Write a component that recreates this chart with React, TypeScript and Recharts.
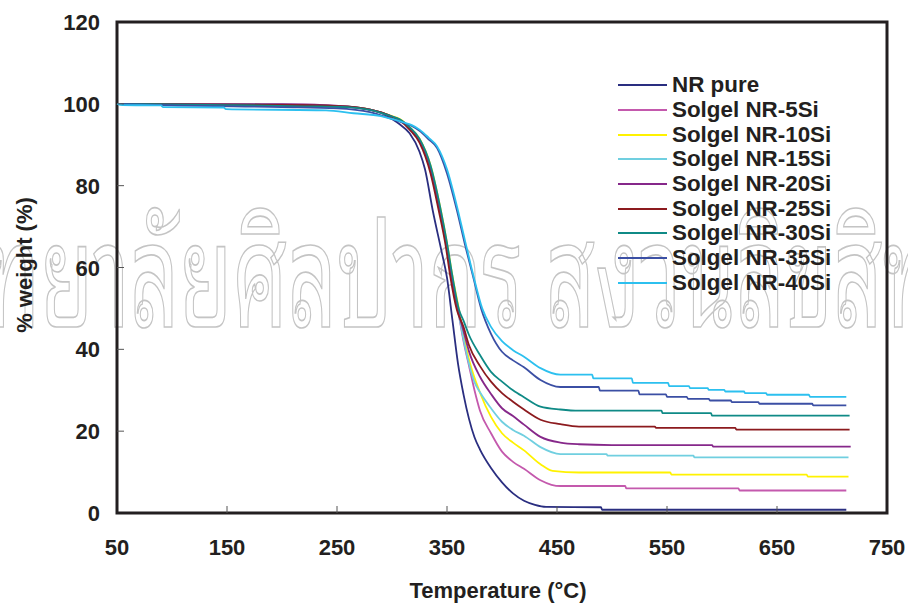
import { LineChart, Line, XAxis, YAxis, ReferenceArea, Legend } from 'recharts';

// temperature (°C) / weight (%) pairs
const nrPure = [
  [50, 100], [120, 99.9], [200, 99.7], [250, 99.4], [280, 98.6], [290, 97.8], [300, 96.3], [307, 95], [316, 92.8],
  [325, 88.3], [330, 84], [337, 74], [345, 64], [350, 57.5], [355, 47], [360, 36.5], [365, 29], [370, 23],
  [375, 18.5], [380, 15.5], [390, 11], [400, 7.5], [410, 4.8], [420, 3.0], [430, 2.0], [440, 1.5], [490, 1.4],
  [491, 0.8], [713, 0.8],
];
const nr5Si = [
  [50, 100], [150, 99.9], [220, 99.8], [260, 99.3], [280, 98.6], [290, 97.9], [300, 96.9], [307, 96.1], [316, 94.0],
  [325, 91], [335, 84], [343, 74.5], [350, 65], [354, 57.8], [360, 49.6], [365, 42], [370, 36], [375, 30],
  [380, 25], [390, 19.5], [400, 15.0], [410, 12.5], [420, 10.8], [435, 8.0], [445, 6.9], [453, 6.6], [512, 6.6],
  [513, 6.0], [615, 6.0], [616, 5.5], [713, 5.5],
];
const nr10Si = [
  [50, 100], [150, 99.9], [220, 99.7], [260, 99.3], [280, 98.6], [290, 97.9], [300, 97.0], [307, 96.3], [316, 94.3],
  [325, 91.5], [335, 85], [344, 74.5], [350, 66], [355, 57.8], [361, 49.6], [365, 43.5], [370, 37.5], [380, 29.4],
  [390, 23.5], [400, 19.5], [410, 17.2], [420, 15.3], [435, 11.9], [446, 10.3], [470, 9.9], [553, 9.9],
  [554, 9.4], [677, 9.4], [678, 8.9], [715, 8.9],
];
const nr15Si = [
  [50, 100], [150, 99.9], [220, 99.7], [260, 99.3], [280, 98.6], [290, 97.9], [300, 96.9], [307, 96.1], [316, 94.0],
  [325, 91], [335, 84], [343, 74.5], [350, 65], [354, 57.8], [360, 49.6], [365, 42.5], [370, 36.5], [375, 32],
  [380, 29.5], [390, 25.6], [400, 22.3], [410, 20.3], [420, 18.9], [435, 16.1], [453, 14.4], [495, 14.4],
  [496, 14.0], [574, 14.0], [575, 13.6], [715, 13.6],
];
const nr20Si = [
  [50, 100], [150, 99.9], [200, 99.9], [260, 99.4], [280, 98.6], [290, 97.9], [300, 96.9], [307, 96.1], [316, 94.0],
  [325, 91], [335, 84], [343, 74.5], [350, 65], [354, 57.8], [360, 49.6], [365, 44.5], [370, 39.5], [380, 33.3],
  [390, 29.1], [400, 25.6], [410, 23.7], [420, 21.6], [435, 18.6], [453, 17.2], [470, 16.8], [500, 16.6],
  [591, 16.6], [592, 16.2], [717, 16.2],
];
const nr25Si = [
  [50, 100], [150, 99.8], [220, 99.7], [260, 99.3], [280, 98.6], [290, 97.9], [300, 96.8], [307, 95.9], [316, 93.7],
  [325, 90.5], [335, 83], [342, 74.5], [349, 65], [353, 57.8], [359, 49.6], [365, 45.5], [370, 41], [380, 35.9],
  [390, 32.1], [400, 29.3], [410, 27.2], [420, 25.3], [435, 22.8], [453, 21.7], [470, 21.1], [539, 21.1],
  [540, 20.8], [612, 20.8], [613, 20.4], [716, 20.4],
];
const nr30Si = [
  [50, 100], [150, 99.7], [220, 99.4], [260, 99.2], [280, 98.5], [290, 97.8], [300, 96.9], [307, 96.2], [316, 94.3],
  [325, 91.5], [335, 85], [344, 74.5], [350, 66], [355, 57.8], [361, 49.6], [365, 47], [370, 43.5], [380, 38.6],
  [390, 34.5], [400, 32.1], [410, 30], [420, 28.3], [435, 26.0], [453, 25.3], [470, 25.0], [545, 25.0],
  [546, 24.4], [590, 24.4], [591, 23.8], [716, 23.8],
];
const nr35Si = [
  [50, 100], [100, 99.6], [200, 99.2], [250, 98.9], [280, 98], [300, 96.3], [310, 95.4], [318, 94.6], [325, 93.4],
  [333, 91.4], [341, 89.2], [350, 83], [359, 74], [366, 66], [374, 57.5], [381, 50], [390, 43.8], [400, 39.4],
  [410, 37.3], [420, 35.6], [435, 32.5], [453, 30.8], [488, 30.8], [489, 29.9], [524, 29.9], [525, 29.0],
  [549, 29.0], [550, 28.4], [568, 28.4], [569, 27.9], [588, 27.9], [589, 27.5], [608, 27.5], [609, 27.1],
  [633, 27.1], [634, 26.7], [682, 26.7], [683, 26.3], [713, 26.3],
];
const nr40Si = [
  [50, 100], [55, 99.7], [90, 99.6], [92, 99.2], [147, 99.1], [149, 98.7], [240, 98.4], [265, 97.7], [290, 97.0],
  [300, 96.3], [310, 95.5], [318, 94.8], [325, 93.7], [333, 91.8], [341, 89.6], [350, 84], [359, 75], [366, 67],
  [374, 58], [382, 50], [390, 45.5], [400, 42], [410, 39.8], [420, 38.2], [435, 35.4], [453, 33.8], [482, 33.8],
  [483, 32.9], [518, 32.9], [519, 31.8], [551, 31.8], [552, 31.0], [570, 31.0], [571, 30.5], [587, 30.5],
  [588, 30.1], [602, 30.1], [603, 29.7], [620, 29.7], [621, 29.3], [640, 29.3], [641, 28.9], [679, 28.9],
  [680, 28.4], [713, 28.4],
];

const SERIES_NAMES = [
  'NR pure', 'Solgel NR-5Si', 'Solgel NR-10Si', 'Solgel NR-15Si', 'Solgel NR-20Si',
  'Solgel NR-25Si', 'Solgel NR-30Si', 'Solgel NR-35Si', 'Solgel NR-40Si',
];
const SERIES_DATA = [nrPure, nr5Si, nr10Si, nr15Si, nr20Si, nr25Si, nr30Si, nr35Si, nr40Si];
const COLORS = ['#2a2e80', '#c459ad', '#fff200', '#70cfe0', '#86288a', '#8c1a1e', '#0f8a86', '#3b4fa4', '#2cc0ef'];

const TEMP_TICKS = [50, 150, 250, 350, 450, 550, 650, 750];
const WEIGHT_TICKS = [0, 20, 40, 60, 80, 100, 120];

const WATERMARK = 'หอสมุดมหาวิทยาลัยศิลปากร สงวนลิขสิทธิ์';

const FONT = '"Liberation Sans", Arial, sans-serif';
const INK = '#231f20';
const PLOT_LEFT = 117;
const PLOT_BOTTOM = 513;

const toPoints = (pairs: number[][]) => pairs.map(([t, w]) => ({ t, w }));

const XTick = (props: any) => {
  const { x, payload } = props;
  const edge = payload.value === 50 || payload.value === 750;
  return (
    <g>
      {!edge && <line x1={x} x2={x} y1={PLOT_BOTTOM} y2={PLOT_BOTTOM - 7} stroke="#555" strokeWidth={1} />}
      <text x={x} y={555} textAnchor="middle" fontFamily={FONT} fontWeight="bold" fontSize={22} fill={INK}>
        {payload.value}
      </text>
    </g>
  );
};

const YTick = (props: any) => {
  const { y, payload } = props;
  const edge = payload.value === 0 || payload.value === 120;
  return (
    <g>
      {!edge && <line x1={PLOT_LEFT} x2={PLOT_LEFT + 7} y1={y} y2={y} stroke="#555" strokeWidth={1} />}
      <text x={100} y={y + 8} textAnchor="end" fontFamily={FONT} fontWeight="bold" fontSize={22} fill={INK}>
        {payload.value}
      </text>
    </g>
  );
};

const LegendBox = () => (
  <div style={{ fontFamily: FONT, fontWeight: 'bold', fontSize: 22.4, color: INK }}>
    {SERIES_NAMES.map((name, i) => (
      <div key={name} style={{ display: 'flex', alignItems: 'center', height: 24.7 }}>
        <div style={{ width: 49, height: 2, background: COLORS[i], marginRight: 5 }} />
        <span style={{ whiteSpace: 'nowrap' }}>{name}</span>
      </div>
    ))}
  </div>
);

export default function App() {
  return (
    <div style={{ position: 'absolute', left: 0, top: 0, width: 908, height: 603, background: '#fff' }}>
      {/* library stamp behind the plot */}
      <svg width={908} height={603} style={{ position: 'absolute', left: 0, top: 0 }}>
        <text
          transform="translate(-472, 327) scale(1.08, 1.8)"
          fontSize={80}
          fontFamily="'Noto Sans Thai Looped', 'Noto Serif Thai', 'Noto Sans Thai', sans-serif"
          fill="none"
          stroke="#c4c4c4"
          strokeWidth={1.4}
          vectorEffect="non-scaling-stroke"
        >
          {WATERMARK}
        </text>
      </svg>
      <LineChart width={908} height={603} margin={{ top: 22, right: 21, bottom: 0, left: 0 }} style={{ position: 'absolute' }}>
        <XAxis
          dataKey="t"
          type="number"
          domain={[50, 750]}
          ticks={TEMP_TICKS}
          height={90}
          axisLine={false}
          tickLine={false}
          tick={XTick}
          interval={0}
          label={{
            content: () => (
              <text x={498} y={598} textAnchor="middle" fontFamily={FONT} fontWeight="bold" fontSize={22} fill={INK}>
                Temperature (°C)
              </text>
            ),
          }}
        />
        <YAxis
          dataKey="w"
          type="number"
          domain={[0, 120]}
          ticks={WEIGHT_TICKS}
          width={117}
          axisLine={false}
          tickLine={false}
          tick={YTick}
          interval={0}
          label={{
            content: () => (
              <text
                x={32}
                y={265}
                transform="rotate(-90, 32, 265)"
                textAnchor="middle"
                fontFamily={FONT}
                fontWeight="bold"
                fontSize={22}
                fill={INK}
              >
                % weight (%)
              </text>
            ),
          }}
        />
        {SERIES_DATA.map((pairs, i) => (
          <Line
            key={SERIES_NAMES[i]}
            data={toPoints(pairs)}
            dataKey="w"
            name={SERIES_NAMES[i]}
            type="monotone"
            stroke={COLORS[i]}
            strokeWidth={1.8}
            dot={false}
            isAnimationActive={false}
          />
        ))}
        <ReferenceArea x1={50} x2={750} y1={0} y2={120} fill="none" stroke={INK} strokeWidth={3} ifOverflow="visible" />
        <Legend
          layout="vertical"
          align="center"
          verticalAlign="middle"
          wrapperStyle={{ left: 618, top: 73, width: 260 }}
          content={LegendBox}
        />
      </LineChart>
    </div>
  );
}
